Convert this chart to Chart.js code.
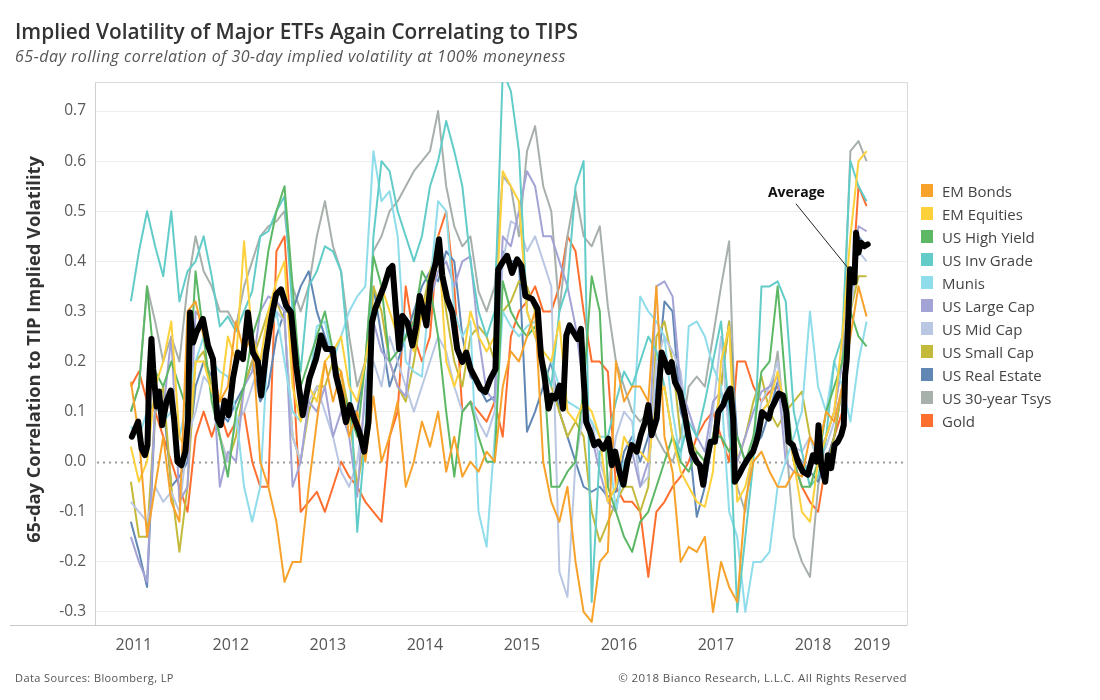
<!DOCTYPE html>
<html>
<head>
<meta charset="utf-8">
<script src="https://cdn.jsdelivr.net/npm/chart.js@4.4.0/dist/chart.umd.min.js"></script>
<style>
  body { margin: 0; background: #fff; font-family: "Open Sans", Lato, sans-serif; }
  #wrap { position: relative; width: 1100px; height: 700px; overflow: hidden; }
  #graficos { position: absolute; left: 0; top: 0; }
  .titulo { position: absolute; left: 15px; top: 17px; font-size: 20.8px; font-weight: 600; color: #333; white-space: nowrap; }
  .subtitulo { position: absolute; left: 15px; top: 45px; font-size: 16px; letter-spacing: 0.5px; font-style: italic; color: #555; white-space: nowrap; }
  .legenda { position: absolute; left: 921px; top: 179px; }
  .item { height: 23px; display: flex; align-items: center; font-size: 15px; color: #444; white-space: nowrap; }
  .item span { display: inline-block; width: 12px; height: 13px; margin-right: 9px; }
  .fonte { position: absolute; left: 15px; top: 670px; font-size: 11px; letter-spacing: 0.4px; color: #555; }
  .direitos { position: absolute; right: 193px; top: 670px; font-size: 11.5px; letter-spacing: 0.4px; color: #555; }
</style>
</head>
<body>
<div id="wrap">
  <canvas id="graficos" width="1100" height="700"></canvas>
  <div class="titulo">Implied Volatility of Major ETFs Again Correlating to TIPS</div>
  <div class="subtitulo">65-day rolling correlation of 30-day implied volatility at 100% moneyness</div>
  <div class="legenda" id="legenda"></div>
  <div class="fonte">Data Sources: Bloomberg, LP</div>
  <div class="direitos">© 2018 Bianco Research, L.L.C. All Rights Reserved</div>
</div>
<script>
// monthly readings, Jan 2011 .. Aug 2018
const seriesNames = ['EM Bonds', 'EM Equities', 'US High Yield', 'US Inv Grade', 'Munis', 'US Large Cap',
  'US Mid Cap', 'US Small Cap', 'US Real Estate', 'US 30-year Tsys', 'Gold'];
const colors = ['#f7a22b', '#fcd13b', '#5cb865', '#62ccc8', '#8fdcea', '#a3a3d6',
  '#bac7e3', '#c3ba3c', '#6187b5', '#a8b0ab', '#fe6f2f'];

const emBonds = [0.16, 0.05, -0.15, -0.05, 0.05, -0.08, -0.12, 0.3, 0.32, 0.25, 0.2, 0.12,
  0.15, 0.28, 0.22, 0.25, 0.0, -0.05, -0.12, -0.24, -0.2, -0.2, -0.05, 0.08,
  0.2, 0.12, 0.18, 0.05, 0.1, 0.0, 0.13, 0.0, 0.05, 0.12, -0.05, 0.0,
  0.08, 0.03, 0.1, -0.02, 0.05, -0.03, 0.0, -0.02, 0.02, 0.0, 0.15, 0.22,
  0.2, 0.25, 0.3, 0.0, -0.08, -0.12, -0.05, -0.2, -0.3, -0.32, -0.2, -0.18,
  0.2, 0.12, 0.15, 0.15, 0.12, 0.35, 0.05, -0.02, -0.2, -0.17, -0.18, -0.15,
  -0.3, -0.2, -0.25, -0.28, -0.08, 0.0, 0.02, -0.02, -0.05, -0.05, -0.02, -0.03,
  0.05, 0.02, 0.1, 0.08, 0.15, 0.25, 0.35, 0.29];
const emEquities = [0.03, -0.04, 0.0, 0.15, 0.2, 0.28, 0.05, 0.02, 0.2, 0.2, 0.14, 0.12,
  0.25, 0.2, 0.44, 0.25, 0.2, 0.3, 0.36, 0.4, 0.15, 0.08, 0.15, 0.12,
  0.2, 0.22, 0.25, 0.15, 0.12, 0.2, 0.3, 0.35, 0.3, 0.25, 0.28, 0.22,
  0.3, 0.35, 0.45, 0.2, 0.15, 0.2, 0.3, 0.25, 0.22, 0.25, 0.58, 0.55,
  0.52, 0.3, 0.25, 0.22, 0.2, 0.28, 0.1, 0.08, 0.12, 0.1, 0.05, -0.08,
  -0.05, 0.05, 0.02, 0.02, 0.0, 0.12, 0.15, 0.05, -0.02, -0.05, -0.08, -0.09,
  -0.02, 0.2, 0.27, -0.08, -0.05, 0.02, 0.1, 0.12, 0.18, 0.1, 0.0, -0.1,
  -0.12, 0.0, 0.05, 0.1, 0.25, 0.45, 0.6, 0.62];
const highYield = [0.1, 0.15, 0.35, 0.18, 0.15, 0.2, 0.15, 0.1, 0.38, 0.25, 0.12, 0.05,
  -0.03, 0.1, 0.15, 0.25, 0.3, 0.42, 0.5, 0.55, 0.35, 0.15, 0.2, 0.25,
  0.3, 0.22, 0.15, 0.1, 0.05, 0.2, 0.41, 0.35, 0.2, 0.22, 0.25, 0.28,
  0.38, 0.35, 0.25, 0.1, -0.03, 0.1, 0.12, 0.05, 0.0, 0.0, 0.36, 0.3,
  0.27, 0.25, 0.27, 0.2, -0.05, -0.05, -0.02, 0.0, 0.15, 0.37, 0.3, -0.05,
  -0.1, -0.15, -0.18, -0.12, -0.1, -0.05, 0.0, 0.05, 0.0, -0.02, 0.02, 0.0,
  0.05, 0.05, 0.02, 0.05, 0.0, 0.05, 0.18, 0.2, 0.35, 0.15, 0.0, -0.05,
  -0.05, 0.0, 0.1, 0.15, 0.2, 0.3, 0.25, 0.23];
const invGrade = [0.32, 0.42, 0.5, 0.43, 0.37, 0.5, 0.32, 0.38, 0.4, 0.45, 0.37, 0.27,
  0.29, 0.26, 0.3, 0.34, 0.45, 0.46, 0.5, 0.53, 0.3, 0.18, 0.35, 0.38,
  0.43, 0.42, 0.38, 0.2, -0.14, 0.05, 0.45, 0.6, 0.58, 0.5, 0.45, 0.4,
  0.45, 0.55, 0.6, 0.68, 0.62, 0.55, 0.4, 0.3, 0.25, 0.3, 0.78, 0.74,
  0.62, 0.3, 0.25, 0.2, 0.15, 0.3, 0.35, 0.55, 0.6, -0.28, 0.02, 0.05,
  0.12, 0.18, 0.15, 0.2, 0.25, 0.22, 0.15, 0.05, 0.02, 0.08, 0.05, 0.12,
  0.2, 0.28, 0.1, -0.3, -0.15, 0.0, 0.35, 0.35, 0.36, 0.32, 0.1, 0.02,
  -0.05, -0.03, 0.05, 0.2, 0.25, 0.6, 0.55, 0.52];
const munis = [0.07, 0.05, 0.1, 0.12, 0.08, 0.1, 0.05, 0.12, 0.2, 0.25, 0.2, 0.18,
  0.17, 0.1, -0.05, -0.12, -0.05, 0.25, 0.3, 0.2, 0.1, 0.08, 0.15, 0.27,
  0.28, 0.2, 0.25, 0.3, 0.33, 0.35, 0.62, 0.52, 0.54, 0.45, 0.2, 0.18,
  0.17, 0.35, 0.52, 0.5, 0.3, 0.25, 0.28, -0.1, -0.17, 0.05, 0.3, 0.27,
  0.25, 0.27, 0.28, 0.22, 0.2, 0.15, 0.12, 0.11, 0.1, 0.08, 0.05, 0.05,
  -0.1, 0.0, 0.02, 0.33, 0.3, 0.28, 0.25, 0.1, 0.0, 0.27, 0.28, 0.25,
  0.19, 0.15, -0.1, -0.15, -0.3, -0.2, -0.2, -0.18, -0.05, 0.0, 0.05, 0.1,
  0.3, 0.15, 0.1, 0.2, 0.15, 0.08, 0.2, 0.28];
const largeCap = [-0.15, -0.2, -0.24, 0.12, 0.1, 0.25, -0.08, -0.05, 0.3, 0.28, 0.2, -0.05,
  0.02, 0.0, 0.15, 0.18, 0.3, 0.33, 0.32, 0.3, -0.05, 0.0, 0.12, 0.1,
  0.15, 0.05, 0.1, 0.05, -0.07, 0.15, 0.28, 0.22, 0.2, 0.15, 0.13, 0.28,
  0.3, 0.32, 0.38, 0.4, 0.35, 0.4, 0.41, 0.25, 0.14, 0.12, 0.45, 0.43,
  0.5, 0.58, 0.55, 0.45, 0.45, 0.4, 0.35, 0.27, 0.15, 0.05, -0.02, -0.08,
  -0.1, 0.0, 0.02, -0.05, 0.0, 0.35, 0.36, 0.33, 0.15, 0.1, 0.05, 0.02,
  0.12, 0.14, 0.1, 0.0, 0.05, 0.1, 0.14, 0.15, 0.17, 0.0, -0.02, 0.0,
  -0.02, 0.02, 0.05, 0.1, 0.2, 0.35, 0.47, 0.46];
const midCap = [-0.08, -0.1, -0.12, -0.05, -0.08, -0.06, -0.1, 0.05, 0.1, 0.17, 0.15, 0.05,
  0.0, 0.08, 0.1, 0.15, 0.2, 0.25, 0.3, 0.28, 0.05, 0.0, 0.12, 0.15,
  0.1, 0.05, -0.02, -0.05, 0.0, 0.12, 0.2, 0.15, 0.25, 0.2, 0.15, 0.1,
  0.15, 0.2, 0.25, 0.22, 0.15, 0.1, 0.12, 0.08, 0.05, 0.1, 0.4, 0.48,
  0.47, 0.42, 0.45, 0.4, 0.35, -0.22, -0.27, 0.0, 0.1, 0.08, 0.0, -0.05,
  0.05, 0.1, 0.08, -0.05, -0.03, 0.2, 0.25, 0.22, 0.18, 0.05, 0.0, -0.02,
  0.1, 0.25, 0.05, -0.02, 0.0, 0.03, 0.12, 0.15, 0.2, 0.05, 0.03, 0.02,
  0.05, 0.0, 0.03, 0.08, 0.15, 0.3, 0.42, 0.4];
const smallCap = [-0.04, -0.15, -0.15, 0.1, 0.15, -0.05, -0.18, -0.05, 0.2, 0.22, 0.15, 0.05,
  0.0, 0.05, 0.15, 0.2, 0.25, 0.3, 0.32, 0.28, 0.05, 0.0, 0.1, 0.15,
  0.15, 0.2, 0.18, 0.1, -0.05, 0.05, 0.35, 0.3, 0.2, 0.15, 0.12, 0.2,
  0.3, 0.38, 0.43, 0.3, 0.2, 0.15, 0.25, 0.27, 0.25, 0.2, 0.3, 0.32,
  0.36, 0.35, 0.3, 0.2, 0.15, 0.1, 0.05, 0.08, 0.05, -0.1, -0.16, -0.12,
  -0.08, -0.05, -0.05, -0.1, -0.05, 0.25, 0.28, 0.2, 0.05, 0.05, 0.02, 0.0,
  0.05, 0.15, 0.28, 0.0, 0.05, 0.12, 0.17, 0.1, 0.07, 0.1, 0.12, 0.14,
  0.05, 0.0, -0.02, 0.05, 0.15, 0.3, 0.37, 0.37];
const realEstate = [-0.12, -0.18, -0.25, 0.1, 0.12, -0.05, -0.03, 0.0, 0.15, 0.2, 0.17, 0.1,
  0.08, 0.12, 0.15, 0.2, 0.12, 0.15, 0.25, 0.3, 0.3, 0.35, 0.38, 0.3,
  0.25, 0.2, 0.15, 0.1, 0.1, 0.2, 0.35, 0.25, 0.15, 0.2, 0.25, 0.3,
  0.35, 0.38, 0.36, 0.42, 0.4, 0.25, 0.17, 0.15, 0.12, 0.13, 0.42, 0.4,
  0.4, 0.06, 0.1, 0.15, 0.2, 0.1, 0.05, 0.0, -0.05, -0.06, -0.05, -0.07,
  -0.06, 0.02, 0.05, 0.0, 0.05, 0.15, 0.32, 0.3, 0.1, 0.05, -0.11, -0.05,
  0.05, 0.15, 0.28, 0.05, 0.0, 0.03, 0.05, 0.1, 0.16, 0.1, 0.02, 0.0,
  -0.02, -0.04, 0.0, 0.05, 0.15, 0.3, 0.45, 0.43];
const tsys30 = [0.1, 0.15, 0.35, 0.28, 0.2, 0.25, 0.2, 0.35, 0.45, 0.38, 0.35, 0.3,
  0.3, 0.27, 0.35, 0.4, 0.45, 0.47, 0.48, 0.5, 0.35, 0.3, 0.35, 0.45,
  0.52, 0.43, 0.38, 0.25, 0.15, 0.2, 0.42, 0.45, 0.5, 0.52, 0.55, 0.58,
  0.6, 0.62, 0.7, 0.55, 0.47, 0.43, 0.45, 0.34, 0.3, 0.35, 0.57, 0.55,
  0.45, 0.62, 0.67, 0.55, 0.5, 0.3, 0.45, 0.54, 0.45, 0.43, 0.47, 0.31,
  0.2, 0.15, 0.1, 0.08, 0.1, 0.05, 0.02, 0.0, 0.05, 0.15, 0.17, 0.15,
  0.25, 0.35, 0.44, -0.05, -0.1, 0.05, 0.1, 0.12, 0.22, 0.05, -0.15, -0.2,
  -0.23, -0.05, 0.05, 0.1, 0.2, 0.62, 0.64, 0.6];
const gold = [0.15, 0.18, 0.12, 0.1, 0.05, 0.0, -0.05, -0.1, 0.05, 0.1, 0.05, 0.1,
  0.05, 0.08, 0.1, 0.0, -0.05, -0.05, 0.42, 0.45, 0.2, -0.1, -0.08, -0.06,
  -0.1, -0.05, 0.0, -0.03, -0.05, -0.08, -0.1, -0.12, 0.05, 0.1, 0.35, 0.25,
  0.2, 0.25, 0.45, 0.5, 0.35, 0.1, 0.12, 0.1, 0.08, 0.12, 0.05, 0.25,
  0.3, 0.32, 0.35, 0.3, 0.3, 0.35, 0.45, 0.42, 0.3, 0.2, 0.2, 0.18,
  -0.05, -0.08, -0.08, -0.1, -0.23, -0.1, -0.08, -0.05, -0.03, 0.0, 0.05, 0.08,
  0.1, 0.05, 0.0, 0.2, 0.2, 0.15, 0.12, 0.14, 0.15, 0.1, 0.0, -0.05,
  -0.08, -0.1, 0.0, 0.05, 0.1, 0.3, 0.55, 0.51];

// black average line, read at finer spacing (decimal years)
const avgDates = [2011.01, 2011.075, 2011.11, 2011.144, 2011.171, 2011.185, 2011.212, 2011.23, 2011.264, 2011.291,
  2011.322, 2011.367, 2011.411, 2011.445, 2011.48, 2011.521, 2011.562, 2011.589, 2011.61, 2011.641,
  2011.675, 2011.743, 2011.795, 2011.846, 2011.891, 2011.925, 2011.966, 2012.007, 2012.052, 2012.103,
  2012.155, 2012.206, 2012.257, 2012.309, 2012.343, 2012.394, 2012.446, 2012.497, 2012.548, 2012.6,
  2012.651, 2012.703, 2012.771, 2012.84, 2012.908, 2012.96, 2013.011, 2013.079, 2013.114, 2013.165,
  2013.217, 2013.258, 2013.302, 2013.354, 2013.405, 2013.449, 2013.484, 2013.518, 2013.559, 2013.611,
  2013.662, 2013.696, 2013.731, 2013.765, 2013.799, 2013.85, 2013.902, 2013.943, 2013.977, 2014.011,
  2014.046, 2014.09, 2014.142, 2014.176, 2014.21, 2014.261, 2014.313, 2014.364, 2014.416, 2014.457,
  2014.501, 2014.553, 2014.604, 2014.655, 2014.707, 2014.758, 2014.786, 2014.827, 2014.878, 2014.929,
  2014.981, 2015.026, 2015.066, 2015.135, 2015.193, 2015.227, 2015.262, 2015.306, 2015.341, 2015.375,
  2015.419, 2015.454, 2015.488, 2015.522, 2015.563, 2015.604, 2015.639, 2015.659, 2015.693, 2015.734,
  2015.776, 2015.82, 2015.871, 2015.923, 2015.957, 2015.992, 2016.036, 2016.077, 2016.118, 2016.163,
  2016.214, 2016.255, 2016.3, 2016.334, 2016.368, 2016.42, 2016.471, 2016.506, 2016.54, 2016.574,
  2016.608, 2016.66, 2016.711, 2016.745, 2016.779, 2016.831, 2016.865, 2016.899, 2016.933, 2016.975,
  2017.02, 2017.054, 2017.105, 2017.139, 2017.18, 2017.208, 2017.225, 2017.269, 2017.31, 2017.362,
  2017.413, 2017.447, 2017.472, 2017.506, 2017.54, 2017.575, 2017.601, 2017.636, 2017.677, 2017.722,
  2017.756, 2017.78, 2017.824, 2017.876, 2017.927, 2017.978, 2018.03, 2018.064, 2018.088, 2018.116,
  2018.157, 2018.184, 2018.218, 2018.253, 2018.287, 2018.321, 2018.348, 2018.362, 2018.379, 2018.397,
  2018.413, 2018.441, 2018.458, 2018.475, 2018.499, 2018.527, 2018.561, 2018.595];
const avgValues = [0.05, 0.08, 0.026, 0.013, 0.033, 0.15, 0.245, 0.185, 0.11, 0.14,
  0.073, 0.12, 0.142, 0.086, 0.0, -0.007, 0.02, 0.086, 0.298, 0.238,
  0.258, 0.285, 0.232, 0.205, 0.086, 0.073, 0.122, 0.093, 0.166, 0.218,
  0.205, 0.298, 0.218, 0.2, 0.132, 0.218, 0.285, 0.334, 0.344, 0.311,
  0.298, 0.192, 0.093, 0.166, 0.205, 0.252, 0.225, 0.225, 0.172, 0.132,
  0.079, 0.113, 0.086, 0.06, 0.02, 0.079, 0.278, 0.305, 0.325, 0.351,
  0.384, 0.391, 0.305, 0.225, 0.291, 0.278, 0.232, 0.272, 0.331, 0.305,
  0.272, 0.358, 0.397, 0.444, 0.371, 0.325, 0.298, 0.225, 0.199, 0.218,
  0.185, 0.166, 0.146, 0.139, 0.166, 0.185, 0.384, 0.397, 0.411, 0.377,
  0.404, 0.391, 0.331, 0.325, 0.305, 0.212, 0.172, 0.106, 0.132, 0.126,
  0.152, 0.106, 0.252, 0.272, 0.258, 0.245, 0.265, 0.192, 0.079, 0.06,
  0.033, 0.04, 0.026, 0.046, -0.007, 0.02, -0.02, -0.046, 0.0, 0.033,
  0.02, 0.053, 0.079, 0.113, 0.053, 0.086, 0.218, 0.199, 0.179, 0.199,
  0.159, 0.139, 0.093, 0.053, 0.02, 0.0, -0.007, -0.046, 0.0, 0.04,
  0.04, 0.099, 0.113, 0.132, 0.146, 0.086, -0.04, -0.026, -0.01, 0.007,
  0.02, 0.04, 0.06, 0.099, 0.093, 0.086, 0.106, 0.119, 0.136, 0.132,
  0.099, 0.04, 0.033, 0.0, -0.02, -0.026, 0.013, 0.0, 0.073, -0.007,
  -0.04, 0.013, -0.013, 0.033, 0.04, 0.053, 0.073, 0.172, 0.205, 0.298,
  0.384, 0.377, 0.358, 0.457, 0.417, 0.437, 0.43, 0.434];

const yTicks = [-0.3, -0.2, -0.1, 0.0, 0.1, 0.2, 0.3, 0.4, 0.5, 0.6, 0.7];
const yearTicks = [2011, 2012, 2013, 2014, 2015, 2016, 2017, 2018, 2019];
const yTitle = '65-day Correlation to TIP Implied Volatility';

// decimal year for each monthly reading
const months = [];
for (let i = 0; i < emBonds.length; i++) months.push(2011 + i / 12);

const allSeries = [emBonds, emEquities, highYield, invGrade, munis, largeCap, midCap, smallCap, realEstate, tsys30, gold];

const datasets = [{
  label: 'Average',
  data: avgDates.map((d, i) => ({x: d, y: avgValues[i]})),
  borderColor: '#000',
  borderWidth: 6,
  borderJoinStyle: 'round',
  borderCapStyle: 'round',
  order: 0
}];
allSeries.forEach((vals, i) => {
  datasets.push({
    label: seriesNames[i],
    data: vals.map((v, j) => ({x: months[j], y: v})),
    borderColor: colors[i],
    borderWidth: 2,
    order: 1
  });
});

// legend
const leg = document.getElementById('legenda');
seriesNames.forEach((n, i) => {
  leg.innerHTML += `<div class="item"><span style="background:${colors[i]}"></span>${n}</div>`;
});

const extras = {
  id: 'extras',
  beforeDatasetsDraw(chart) {
    const {ctx, chartArea: a, scales: {y}} = chart;
    ctx.save();
    ctx.strokeStyle = '#dadada';
    ctx.lineWidth = 1;
    ctx.beginPath();
    ctx.moveTo(a.left, a.top + 0.5);
    ctx.lineTo(a.right + 0.5, a.top + 0.5);
    ctx.lineTo(a.right + 0.5, a.bottom);
    ctx.stroke();
    const y0 = Math.round(y.getPixelForValue(0)) + 0.5;
    ctx.strokeStyle = '#9c9c9c';
    ctx.lineWidth = 2;
    ctx.setLineDash([2, 4]);
    ctx.beginPath();
    ctx.moveTo(a.left + 2, y0);
    ctx.lineTo(a.right, y0);
    ctx.stroke();
    ctx.restore();
  },
  afterDraw(chart) {
    const {ctx, chartArea: a, scales: {x, y}} = chart;
    ctx.save();
    ctx.strokeStyle = '#c9c9c9';
    ctx.lineWidth = 1;
    ctx.beginPath();
    ctx.moveTo(10, a.bottom + 0.5);
    ctx.lineTo(a.right + 0.5, a.bottom + 0.5);
    ctx.stroke();
    // y tick labels
    ctx.fillStyle = '#595959';
    ctx.font = '15.5px "Open Sans"';
    ctx.textAlign = 'right';
    ctx.textBaseline = 'middle';
    yTicks.forEach(v => {
      ctx.fillText(v.toFixed(1), a.left - 9, y.getPixelForValue(v));
    });
    // y title
    ctx.save();
    ctx.translate(35, (a.top + a.bottom) / 2 - 4);
    ctx.rotate(-Math.PI / 2);
    ctx.textAlign = 'center';
    ctx.fillStyle = '#333';
    ctx.font = 'bold 18.3px "Open Sans"';
    ctx.fillText(yTitle, 0, 0);
    ctx.restore();
    // year labels
    ctx.fillStyle = '#555';
    ctx.font = '16px "Open Sans"';
    ctx.textAlign = 'center';
    yearTicks.forEach(t => {
      const px = Math.min(x.getPixelForValue(t) + 3, a.right - 35);
      ctx.fillText(String(t), px, a.bottom + 20);
    });
    // "Average" callout
    ctx.fillStyle = '#111';
    ctx.font = 'bold 14px "Open Sans"';
    ctx.fillText('Average', x.getPixelForValue(2017.86), y.getPixelForValue(0.537));
    ctx.strokeStyle = '#222';
    ctx.beginPath();
    ctx.moveTo(x.getPixelForValue(2017.855), y.getPixelForValue(0.515));
    ctx.lineTo(x.getPixelForValue(2018.39), y.getPixelForValue(0.387));
    ctx.stroke();
    ctx.restore();
  }
};

const ctx = document.getElementById('graficos');
new Chart(ctx, {
  type: 'line',
  data: { datasets: datasets },
  options: {
    responsive: false,
    animation: false,
    layout: { padding: { left: 21, top: 82, right: 193, bottom: 75 } },
    elements: { point: { radius: 0 }, line: { tension: 0, borderJoinStyle: 'round' } },
    plugins: { legend: { display: false }, tooltip: { enabled: false } },
    scales: {
      x: {
        type: 'linear',
        min: 2010.63,
        max: 2019,
        ticks: { display: false },
        grid: { display: false },
        border: { display: false },
        afterFit: s => { s.height = 0; }
      },
      y: {
        min: -0.326,
        max: 0.758,
        afterBuildTicks: axis => { axis.ticks = yTicks.map(v => ({value: v})); },
        afterFit: s => { s.width = 74; },
        ticks: { display: false },
        grid: {
          drawTicks: false,
          color: c => (c.tick && c.tick.value === 0) ? 'rgba(0,0,0,0)' : '#eeeeee'
        },
        border: { color: '#cfcfcf' }
      }
    }
  },
  plugins: [extras]
});
</script>
</body>
</html>
